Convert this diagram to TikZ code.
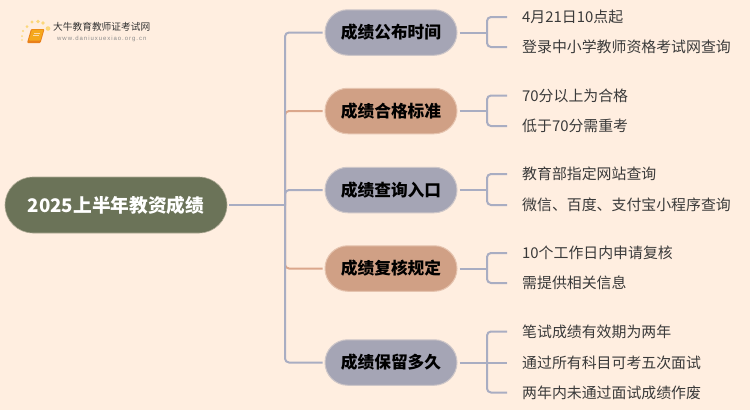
\documentclass[tikz,border=0pt]{standalone}
\usepackage{fontspec}
\setmainfont{Noto Sans CJK SC}
\newfontfamily\latinf{Liberation Sans}
\usetikzlibrary{shapes.misc}
\definecolor{bgc}{HTML}{FFEEE0}
\definecolor{rootc}{HTML}{6B7358}
\definecolor{bluec}{HTML}{A5A5B5}
\definecolor{brownc}{HTML}{D0A085}
\definecolor{lblue}{HTML}{A9ADC2}
\definecolor{lbrown}{HTML}{DBA78C}
\definecolor{leaftxt}{HTML}{3A3A3A}
\definecolor{raysc}{HTML}{FBD77A}
\definecolor{bookc}{HTML}{F5A81C}
\definecolor{bookd}{HTML}{E9801A}
\tikzset{
  rootbox/.style={rounded rectangle,fill=rootc,draw=rootc!55!bgc,line width=.6pt,minimum width=222pt,minimum height=56pt,inner sep=0pt,text=white,font=\fontsize{18.7pt}{22pt}\selectfont\bfseries},
  topicbox/.style={rounded rectangle,draw=#1!55!bgc,fill=#1,line width=1pt,minimum width=132pt,minimum height=45.5pt,inner sep=0pt,text=black,font=\fontsize{16.7pt}{20pt}\selectfont\bfseries},
  leaftext/.style={anchor=west,inner sep=0pt,text=leaftxt,font=\fontsize{14.9pt}{18pt}\selectfont},
  conn/.style={draw=lblue,line width=2pt,rounded corners=4pt},
  connb/.style={draw=lbrown,line width=2pt,rounded corners=4pt},
}
\begin{document}
\begin{tikzpicture}[x=1pt,y=-1pt]
\useasboundingbox (0,0) rectangle (750,410);
\fill[bgc] (0,0) rectangle (750,410);
% logo
\foreach \a/\b/\r in {22/40/.8,22/36/1,23/31/1.2,27/26.5/1.5,32/22/1.7,38/21.5/1.9,43/23/1.8,48/28.5/2.3}
  \fill[raysc] (\a,\b) circle (\r);
\fill[bookd,rounded corners=1pt] (31,29) -- (44.5,29) -- (40.5,43) -- (27,43) -- cycle;
\fill[bookc,rounded corners=.8pt] (32,29.5) -- (43.5,29.5) -- (40.3,40.5) -- (28.8,40.5) -- cycle;
\draw[bgc!70!bookc,line width=.7pt] (34,33) -- (40,33) (33.2,35.5) -- (39.2,35.5);
\node[anchor=west,inner sep=0pt,text=black!80,font=\fontsize{9.7pt}{11pt}\selectfont] (logot) at (53,27) {大牛教育教师证考试网};
\node[anchor=west,inner sep=0pt,text=black!45,font=\latinf\fontsize{6pt}{8pt}\selectfont\addfontfeature{LetterSpace=16}] (logou) at (57,39) {www.daniuxuexiao.org.cn};
% nodes
\node[rootbox] (root) at (116,205) {2025上半年教资成绩};
\node[topicbox=bluec] (t1) at (391,32.5) {成绩公布时间};
\node[topicbox=brownc] (t2) at (391,111) {成绩合格标准};
\node[topicbox=bluec] (t3) at (391,190) {成绩查询入口};
\node[topicbox=brownc] (t4) at (391,268.5) {成绩复核规定};
\node[topicbox=bluec] (t5) at (391,362.5) {成绩保留多久};
\foreach \n/\y/\t in {
 a1/17/4月21日10点起,
 a2/47/登录中小学教师资格考试网查询,
 b1/95.5/70分以上为合格,
 b2/126/低于70分需重考,
 c1/174/教育部指定网站查询,
 c2/205/微信、百度、支付宝小程序查询,
 d1/253/10个工作日内申请复核,
 d2/283/需提供相关信息,
 e1/331.5/笔试成绩有效期为两年,
 e2/362.5/通过所有科目可考五次面试,
 e3/392.5/两年内未通过面试成绩作废}
 {\node[leaftext] (\n) at (522,\y) {\t};}
% connectors: root to topics
\coordinate (rt) at (285,205);
\draw[connb] (rt) -- (rt |- t2.west) -- ([xshift=-2pt]t2.west);
\draw[connb] (rt) -- (rt |- t4.west) -- ([xshift=-2pt]t4.west);
\draw[conn] (rt) -- (rt |- t1.west) -- ([xshift=-2pt]t1.west);
\draw[conn] (rt) -- (rt |- t5.west) -- ([xshift=-2pt]t5.west);
\draw[conn] (rt) -- (rt |- t3.west) -- ([xshift=-2pt]t3.west);
\draw[conn] ([xshift=2pt]root.east) -- (rt);
% topics to leaves
\coordinate (j) at (487,0);
\foreach \t/\l/\u in {t1/a1/a2,t2/b1/b2,t3/c1/c2,t4/d1/d2,t5/e1/e3}{
  \draw[conn] ([xshift=2pt]\t.east) -- (j |- \t.east);
  \draw[conn] ([xshift=20pt]j |- \l.west) -- (j |- \l.west) -- (j |- \u.west) -- ([xshift=20pt]j |- \u.west);
}
\draw[conn] (j |- e2.west) -- ([xshift=20pt]j |- e2.west);
\end{tikzpicture}
\end{document}
